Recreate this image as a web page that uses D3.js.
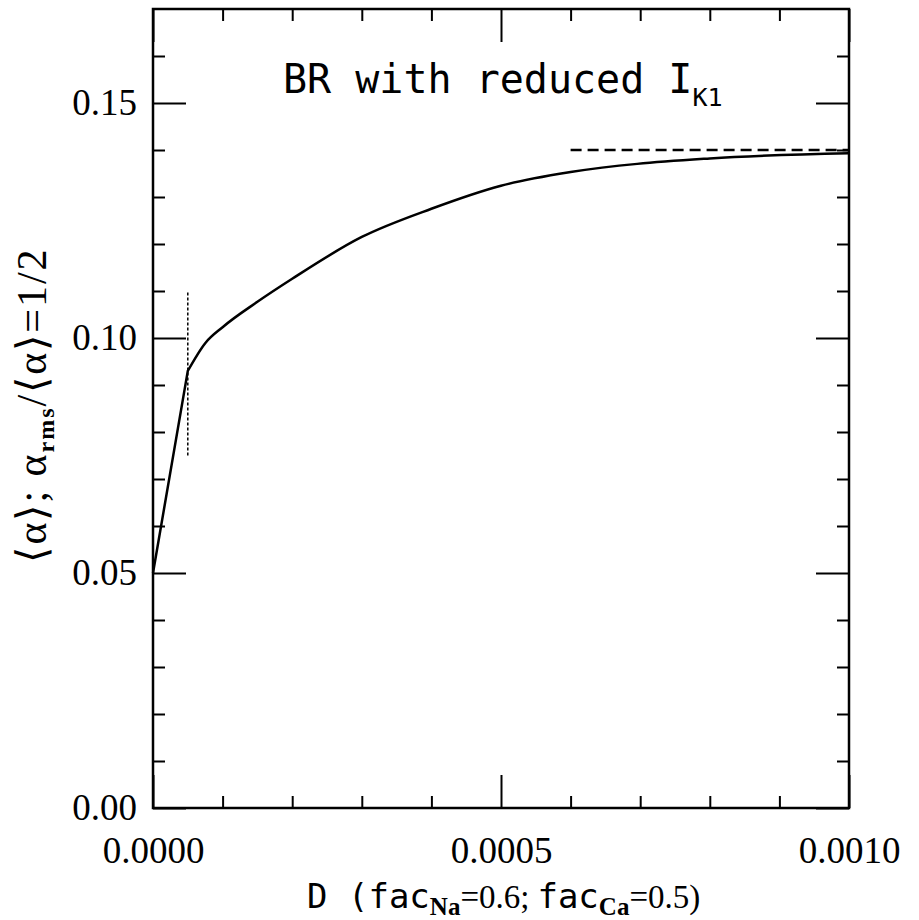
<!DOCTYPE html>
<html>
<head>
<meta charset="utf-8">
<script src="https://cdn.jsdelivr.net/npm/d3@7"></script>
<style>
  body { margin: 0; background: #fff; }
  svg { display: block; }
  .tick text { font-family: "Liberation Serif", serif; font-size: 37px; fill: #000; }
  .tick line { stroke: #000; stroke-width: 2; }
</style>
</head>
<body>
<svg id="chart" width="919" height="920"></svg>
<script>
// values
var dVals = [0, 0.00005, 0.000075, 0.0001, 0.00015, 0.0002, 0.0003, 0.0004, 0.0005, 0.0006, 0.0008, 0.001]
var alphaVals = [0.0500, 0.0930, 0.0989, 0.1023, 0.1077, 0.1126, 0.1215, 0.1275, 0.1324, 0.1353, 0.1382, 0.1393]
var xMajor = [0, 0.0005, 0.001]
var xMinor = [0.0001, 0.0002, 0.0003, 0.0004, 0.0006, 0.0007, 0.0008, 0.0009]
var yMajor = [0, 0.05, 0.10, 0.15]
var yMinor = [0.01, 0.02, 0.03, 0.04, 0.06, 0.07, 0.08, 0.09, 0.11, 0.12, 0.13, 0.14, 0.16]
var dashedY = 0.14, dashedFrom = 0.0006
var dottedX = 0.00005, dottedLo = 0.075, dottedHi = 0.11

var margin = {left: 153, right: 70, top: 9, bottom: 112}
var width = 919 - margin.left - margin.right
var height = 920 - margin.top - margin.bottom

var svg = d3.select("#chart")
var g = svg.append("g").attr("transform", "translate(" + margin.left + "," + margin.top + ")")

var x = d3.scaleLinear().domain([0, 0.001]).range([0, width])
var y = d3.scaleLinear().domain([0, 0.17]).range([height, 0])

var big = 33, small = 12

function axis(gen, vals, size, fmt, pad, tx) {
  var a = g.append("g")
    .attr("transform", tx)
    .call(gen.tickValues(vals).tickSize(-size).tickSizeOuter(0).tickPadding(pad).tickFormat(fmt))
  a.select(".domain").remove()
  a.attr("font-family", null).attr("font-size", null)
  return a
}
var none = () => ""

// bottom / top
axis(d3.axisBottom(x), xMajor, big, d3.format(".4f"), 29, "translate(0," + height + ")")
axis(d3.axisBottom(x), xMinor, small, none, 0, "translate(0," + height + ")")
axis(d3.axisTop(x), xMajor, big, none, 0, null)
axis(d3.axisTop(x), xMinor, small, none, 0, null)
// left / right
axis(d3.axisLeft(y), yMajor, big, d3.format(".2f"), 16, null)
axis(d3.axisLeft(y), yMinor, small, none, 0, null)
axis(d3.axisRight(y), yMajor, big, none, 0, "translate(" + width + ",0)")
axis(d3.axisRight(y), yMinor, small, none, 0, "translate(" + width + ",0)")

// frame
g.append("rect")
  .attr("width", width).attr("height", height)
  .attr("fill", "none").attr("stroke", "#000").attr("stroke-width", 2.5)

// curve: straight first step, smooth after the kink at D = 5e-5
var pts = dVals.map((d, i) => [d, alphaVals[i]])
var straight = d3.line().x(d => x(d[0])).y(d => y(d[1]))
var smooth = d3.line().x(d => x(d[0])).y(d => y(d[1])).curve(d3.curveMonotoneX)
g.append("path")
  .attr("d", straight(pts.slice(0, 2)) + smooth(pts.slice(1)).replace(/^M/, "L"))
  .attr("fill", "none").attr("stroke", "#000").attr("stroke-width", 2.5)
  .attr("stroke-linejoin", "round")

// asymptote
g.append("line")
  .attr("x1", x(dashedFrom)).attr("x2", x(0.001))
  .attr("y1", y(dashedY)).attr("y2", y(dashedY))
  .attr("stroke", "#000").attr("stroke-width", 2.5).attr("stroke-dasharray", "11,6")

// marker at D = 5e-5
g.append("line")
  .attr("x1", x(dottedX)).attr("x2", x(dottedX))
  .attr("y1", y(dottedLo)).attr("y2", y(dottedHi))
  .attr("stroke", "#000").attr("stroke-width", 1.5).attr("stroke-dasharray", "3,2")

var mono = "DejaVu Sans Mono, monospace", serif = "Liberation Serif, serif"

// title
var title = svg.append("text")
  .attr("x", 283).attr("y", 93)
  .attr("font-family", mono).attr("font-size", 40)
title.append("tspan").text("BR with reduced I")
title.append("tspan").attr("dy", 13).attr("font-size", 25).text("K1")

// x label
var xl = svg.append("text").attr("x", 307).attr("y", 908).attr("font-size", 34)
xl.append("tspan").attr("font-family", mono).text("D (fac")
xl.append("tspan").attr("font-family", serif).attr("font-weight", "bold").attr("font-size", 25).attr("dy", 7).text("Na")
xl.append("tspan").attr("font-family", serif).attr("font-size", 33).attr("dy", -7).text("=0.6;")
xl.append("tspan").attr("font-family", mono).attr("dx", 8).text("fac")
xl.append("tspan").attr("font-family", serif).attr("font-weight", "bold").attr("font-size", 25).attr("dy", 7).text("Ca")
xl.append("tspan").attr("font-family", serif).attr("font-size", 33).attr("dy", -7).text("=0.5)")

// y label
var yl = svg.append("text")
  .attr("transform", "translate(46,405) rotate(-90)")
  .attr("text-anchor", "middle")
  .attr("font-family", serif).attr("font-size", 42)
  .attr("letter-spacing", 2)
yl.append("tspan").text("\u27e8\u03b1\u27e9;  \u03b1")
yl.append("tspan").attr("font-size", 24).attr("font-weight", "bold").attr("dy", 8).text("rms")
yl.append("tspan").attr("dy", -8).text("/\u27e8\u03b1\u27e9=1/2")
</script>
</body>
</html>
